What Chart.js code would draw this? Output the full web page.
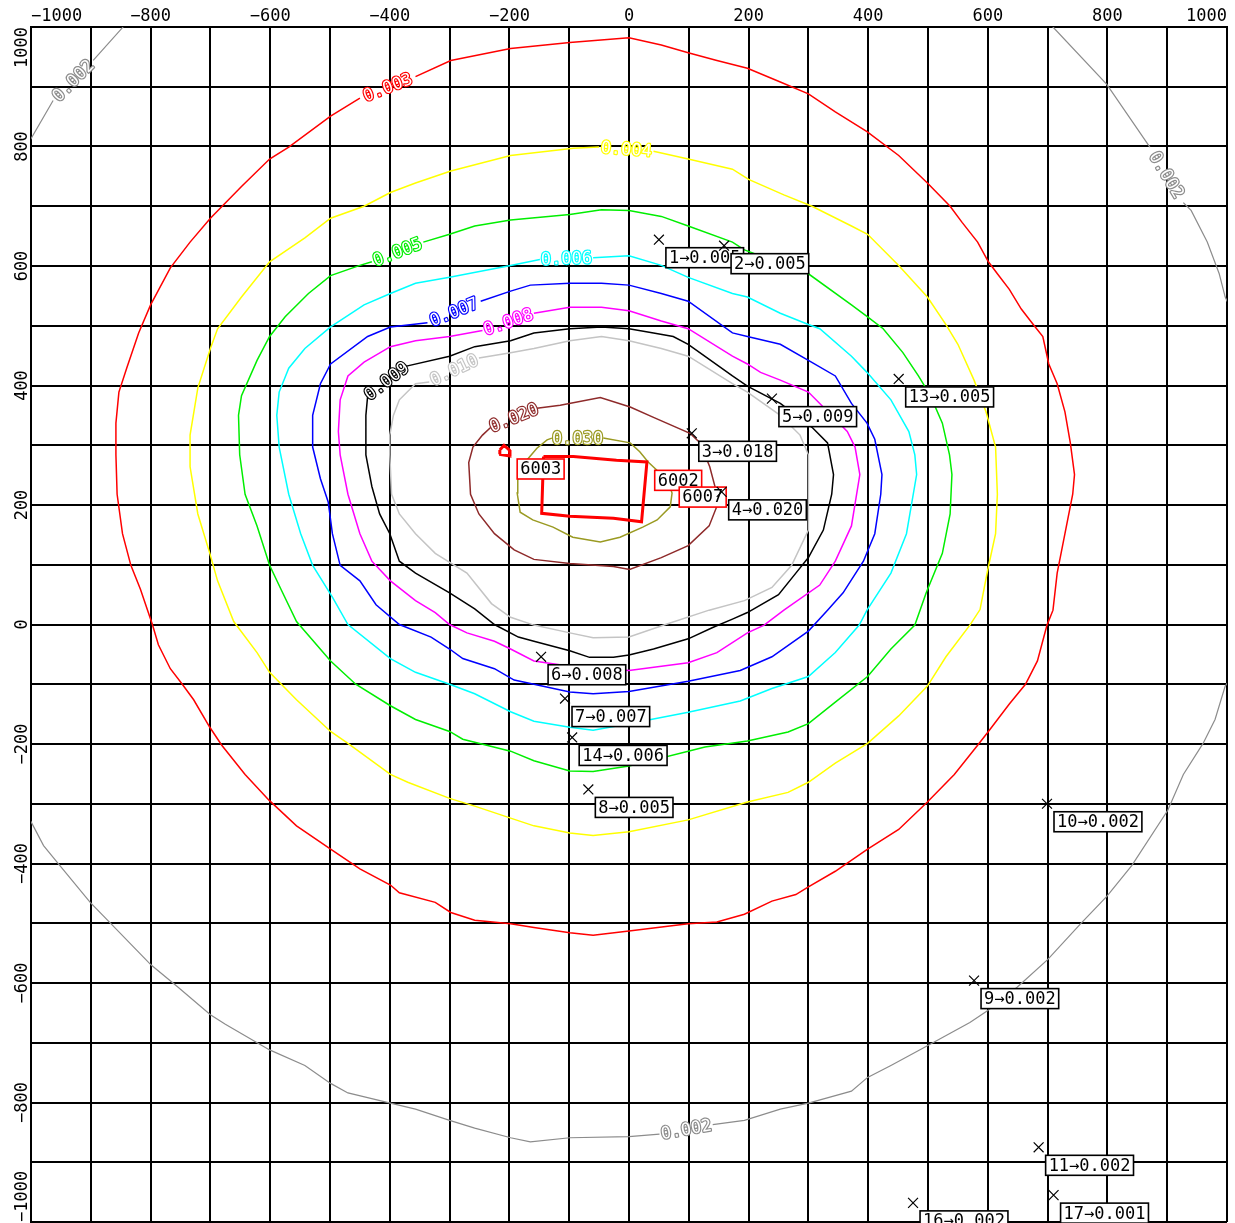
<!DOCTYPE html>
<html>
<head>
<meta charset="utf-8">
<script src="https://cdn.jsdelivr.net/npm/chart.js@4/dist/chart.umd.min.js"></script>
<style>
  html, body { margin: 0; padding: 0; background: #fff; }
  #wrap { width: 1235px; height: 1223px; }
</style>
</head>
<body>
<div id="wrap"><canvas id="c" width="1235" height="1223"></canvas></div>
<script>
// ---- axis labels (every 200 m, grid every 100 m) ----
const labelledTicks = [-1000, -800, -600, -400, -200, 0, 200, 400, 600, 800, 1000];

// ---- isolines of ground-level concentration, [x, y] in metres ----
// each line starts just after its text label and ends just before it;
// null marks a break where the line leaves the map.
const iso002a = [[-896,944],[-846,1000],[-838,1012],null,[-1012,795],[-1000,813],[-963,877]];
const iso002b = [[927,706],[940,693],[967,640],[987,587],[997,548],[1010,520],null,[700,1012],[709,1000],[799,904],[871,799]];
const iso002c = [[140,-837],[193,-830],[253,-811],[300,-801],[372,-781],[399,-758],[438,-738],[499,-705],[570,-666],[600,-646],[649,-607],[700,-561],[755,-501],[799,-455],[841,-403],[901,-311],[927,-251],[960,-199],[980,-159],[997,-103],[1010,-85],null,[-1010,-318],[-1000,-330],[-979,-370],[-952,-403],[-901,-465],[-866,-501],[-799,-570],[-754,-607],[-700,-653],[-675,-669],[-601,-712],[-542,-738],[-499,-768],[-470,-784],[-399,-801],[-357,-811],[-300,-830],[-258,-843],[-198,-859],[-165,-866],[-99,-859],[0,-857],[51,-853]];
const iso003 = [[-357,917],[-298,944],[-198,964],[-99,974],[0,982],[54,970],[99,957],[147,944],[198,931],[253,908],[300,888],[345,858],[398,825],[451,785],[499,739],[537,700],[557,673],[583,640],[601,607],[616,587],[636,561],[656,528],[676,502],[692,482],[702,436],[716,403],[729,356],[738,304],[745,251],[742,218],[729,152],[716,86],[709,24],[699,-1],[683,-61],[663,-100],[636,-133],[601,-179],[583,-202],[544,-251],[499,-297],[451,-343],[399,-376],[345,-413],[300,-439],[279,-452],[239,-463],[193,-485],[147,-498],[99,-501],[0,-513],[-60,-520],[-99,-516],[-159,-507],[-198,-501],[-258,-495],[-298,-482],[-324,-465],[-384,-449],[-399,-436],[-450,-409],[-499,-376],[-556,-337],[-602,-294],[-642,-251],[-681,-202],[-701,-172],[-728,-126],[-747,-100],[-767,-74],[-787,-34],[-797,0],[-817,59],[-833,99],[-847,152],[-856,218],[-858,284],[-858,337],[-853,389],[-840,429],[-820,488],[-800,535],[-767,597],[-734,640],[-700,680],[-648,733],[-601,779],[-569,799],[-499,851],[-450,881]];
const iso004 = [[41,792],[99,779],[173,762],[200,745],[259,719],[306,700],[372,667],[399,653],[451,601],[499,548],[530,502],[550,469],[577,409],[597,356],[613,297],[616,218],[613,152],[600,92],[587,25],[570,-1],[530,-54],[499,-103],[451,-153],[399,-199],[345,-232],[300,-264],[266,-281],[198,-297],[99,-327],[0,-347],[-60,-353],[-99,-349],[-159,-337],[-198,-324],[-258,-304],[-300,-291],[-370,-264],[-399,-251],[-470,-199],[-499,-179],[-556,-126],[-601,-80],[-622,-47],[-661,5],[-688,73],[-701,119],[-721,185],[-734,264],[-734,317],[-721,396],[-700,462],[-688,495],[-648,548],[-601,607],[-542,647],[-499,680],[-443,700],[-399,723],[-357,739],[-298,759],[-198,785],[-93,797],[-50,799]];
const iso005 = [[-344,640],[-300,653],[-258,667],[-198,677],[-99,686],[-46,694],[0,693],[54,683],[99,667],[173,640],[193,627],[300,587],[372,535],[399,515],[425,495],[458,455],[484,416],[504,383],[524,337],[536,284],[540,251],[537,185],[524,119],[497,53],[478,-1],[438,-41],[399,-87],[345,-130],[300,-166],[266,-180],[198,-195],[127,-205],[99,-212],[0,-237],[-60,-246],[-99,-245],[-159,-228],[-198,-212],[-238,-202],[-278,-192],[-300,-179],[-357,-159],[-399,-136],[-457,-100],[-499,-61],[-556,5],[-582,59],[-601,99],[-622,165],[-642,218],[-651,284],[-653,350],[-648,383],[-622,442],[-601,482],[-575,515],[-536,554],[-499,584],[-450,601],[-430,607]];
const iso006 = [[-60,614],[0,617],[54,601],[99,581],[173,554],[198,548],[253,521],[300,502],[319,495],[372,449],[398,422],[438,376],[468,323],[478,284],[481,251],[464,152],[438,86],[398,24],[385,-1],[345,-47],[300,-87],[239,-107],[186,-128],[99,-147],[0,-166],[-60,-177],[-99,-172],[-159,-162],[-198,-146],[-258,-116],[-300,-100],[-357,-80],[-399,-57],[-470,0],[-496,46],[-529,99],[-549,152],[-569,218],[-585,297],[-589,350],[-585,389],[-569,429],[-542,462],[-499,498],[-443,535],[-399,554],[-357,571],[-300,581],[-198,601],[-149,611]];
const iso007 = [[-248,541],[-198,558],[-165,568],[-99,571],[-46,571],[0,568],[54,554],[99,541],[173,488],[198,482],[253,469],[300,442],[345,416],[372,370],[398,337],[411,310],[423,251],[421,218],[411,152],[392,106],[358,53],[332,24],[300,-11],[239,-54],[186,-77],[99,-95],[0,-112],[-60,-116],[-99,-113],[-159,-100],[-192,-93],[-225,-74],[-278,-57],[-300,-41],[-331,-21],[-384,0],[-423,33],[-450,73],[-483,99],[-496,152],[-503,205],[-516,244],[-529,297],[-529,350],[-516,403],[-499,436],[-437,482],[-399,498],[-337,505]];
const iso008 = [[-159,521],[-99,531],[-46,531],[0,525],[54,508],[99,495],[173,449],[198,436],[220,422],[253,409],[300,389],[319,370],[365,323],[378,297],[386,251],[372,165],[345,106],[319,66],[259,24],[226,-1],[198,-14],[147,-47],[99,-64],[0,-77],[-99,-70],[-159,-61],[-198,-41],[-225,-28],[-271,-14],[-300,0],[-324,20],[-357,40],[-399,73],[-430,106],[-450,152],[-470,218],[-483,284],[-486,323],[-483,376],[-470,416],[-443,439],[-399,465],[-357,475],[-300,482],[-245,492]];
const iso009 = [[-374,432],[-300,449],[-258,465],[-198,475],[-159,488],[-99,495],[-46,498],[0,495],[41,488],[74,482],[99,469],[173,416],[198,399],[253,370],[306,330],[332,304],[342,251],[339,218],[325,158],[300,112],[279,86],[250,50],[198,20],[173,9],[140,-5],[99,-24],[41,-41],[0,-51],[-26,-55],[-66,-55],[-99,-44],[-159,-28],[-185,-21],[-225,0],[-258,26],[-300,53],[-357,86],[-384,106],[-400,152],[-417,185],[-430,231],[-440,284],[-440,350],[-437,383]];
const iso010 = [[-251,446],[-198,455],[-159,462],[-99,475],[-46,482],[0,475],[54,462],[99,449],[173,403],[198,389],[253,350],[286,317],[300,284],[300,231],[300,158],[272,99],[239,62],[193,40],[134,24],[61,0],[0,-21],[-60,-22],[-99,-14],[-159,-1],[-198,12],[-230,35],[-271,86],[-324,119],[-357,152],[-384,185],[-397,218],[-400,284],[-400,317],[-394,350],[-384,376],[-357,403],[-334,406]];
const iso020 = [[-154,362],[-115,367],[-48,380],[2,364],[40,347],[102,320],[119,304],[135,264],[144,230],[147,198],[134,165],[99,132],[54,112],[1,92],[-26,97],[-99,102],[-159,109],[-192,125],[-225,152],[-251,185],[-265,218],[-268,271],[-261,297],[-245,317],[-231,330]];
const iso030 = [[-43,312],[2,304],[18,289],[32,272],[64,242],[72,220],[69,197],[47,175],[23,163],[-15,146],[-48,138],[-94,146],[-127,163],[-161,175],[-182,188],[-187,220],[-186,242],[-171,275],[-154,295],[-137,309],[-129,312]];

// ---- emission sources ----
const sourceArea6003 = [[-143,281],[-93,281],[-21,275],[30,272],[21,172],[-26,178],[-99,181],[-146,186],[-143,281]];
const sourceMarker = [[-216,292],[-209,300],[-200,292],[-199,282],[-217,285],[-216,292]];
const sourceIds = ['6003', '6002', '6007'];
const sourceX = [-187, 43, 84];
const sourceY = [277, 258, 230];

// ---- receptor points and their computed values ----
const receptorIds = [1, 2, 3, 4, 5, 6, 7, 8, 9, 10, 11, 13, 14, 16, 17];
const receptorX = [50, 159, 105, 155, 239, -147, -107, -68, 577, 699, 685, 451, -95, 475, 710];
const receptorY = [644, 634, 320, 222, 378, -54, -124, -276, -596, -300, -875, 411, -189, -968, -955];
const receptorValues = [0.005, 0.005, 0.018, 0.020, 0.009, 0.008, 0.007, 0.005, 0.002, 0.002, 0.002, 0.005, 0.006, 0.002, 0.001];

// ---- drawing styles ----
const MONO = '"DejaVu Sans Mono", monospace';
const isolines = [
  { label: '0.002', pts: iso002a, color: '#8c8c8c', width: 1.2 },
  { label: '0.002', pts: iso002b, color: '#8c8c8c', width: 1.2 },
  { label: '0.002', pts: iso002c, color: '#8c8c8c', width: 1.2 },
  { label: '0.003', pts: iso003, color: '#ff0000', width: 1.5 },
  { label: '0.004', pts: iso004, color: '#ffff00', width: 1.5 },
  { label: '0.005', pts: iso005, color: '#00ee00', width: 1.5 },
  { label: '0.006', pts: iso006, color: '#00ffff', width: 1.5 },
  { label: '0.007', pts: iso007, color: '#0000ff', width: 1.5 },
  { label: '0.008', pts: iso008, color: '#ff00ff', width: 1.5 },
  { label: '0.009', pts: iso009, color: '#000000', width: 1.5 },
  { label: '0.010', pts: iso010, color: '#c4c4c4', width: 1.5 },
  { label: '0.020', pts: iso020, color: '#8e2a2a', width: 1.5 },
  { label: '0.030', pts: iso030, color: '#9a9a22', width: 1.5 }
];

const toXY = pts => pts.map(p => p ? { x: p[0], y: p[1] } : { x: null, y: null });
const fmt = v => (v < 0 ? '\u2212' + Math.abs(v) : String(v));

const datasets = [];
datasets.push({
  label: 'receptors',
  data: receptorX.map((x, i) => ({ x, y: receptorY[i] })),
  showLine: false,
  pointStyle: 'crossRot',
  pointRadius: 7,
  pointBorderWidth: 1.2,
  pointBorderColor: '#000',
  order: 0
});
const RECEPTOR_INDEX = 0;
[sourceArea6003, sourceMarker].forEach(s => datasets.push({
  data: toXY(s), showLine: true, pointRadius: 0, borderColor: '#ff0000',
  borderWidth: 3, borderJoinStyle: 'miter', fill: false, order: 1
}));
isolines.forEach(c => datasets.push({
  data: toXY(c.pts), showLine: true, pointRadius: 0, borderColor: c.color,
  borderWidth: c.width, fill: false, spanGaps: false, tension: 0, order: 2
}));

function boxLabel(ctx, text, px, py, stroke) {
  ctx.font = '17px ' + MONO;
  const w = ctx.measureText(text).width + 6;
  const h = 20;
  ctx.fillStyle = '#fff';
  ctx.fillRect(px, py, w, h);
  ctx.lineWidth = 1.6;
  ctx.strokeStyle = stroke;
  ctx.strokeRect(px, py, w, h);
  ctx.fillStyle = '#000';
  ctx.textAlign = 'left';
  ctx.textBaseline = 'middle';
  ctx.fillText(text, px + 3, py + h / 2 + 1);
}

const annotations = {
  id: 'annotations',
  beforeDatasetDraw(chart, args) {
    if (args.index !== RECEPTOR_INDEX) return;
    const ctx = chart.ctx, xs = chart.scales.x, ys = chart.scales.y;
    const a = chart.chartArea;
    ctx.save();
    ctx.beginPath();
    ctx.rect(a.left, a.top, a.right - a.left, a.bottom - a.top + 2);
    ctx.clip();
    // isoline values written, hollow, in the gap of each line
    isolines.forEach(c => {
      const p0 = c.pts[c.pts.length - 1], p1 = c.pts[0];
      const x0 = xs.getPixelForValue(p0[0]), y0 = ys.getPixelForValue(p0[1]);
      const x1 = xs.getPixelForValue(p1[0]), y1 = ys.getPixelForValue(p1[1]);
      let ang = Math.atan2(y1 - y0, x1 - x0);
      if (ang > Math.PI / 2) ang -= Math.PI;
      if (ang < -Math.PI / 2) ang += Math.PI;
      ctx.save();
      ctx.translate((x0 + x1) / 2, (y0 + y1) / 2);
      ctx.rotate(ang);
      ctx.font = '17px ' + MONO;
      ctx.textAlign = 'center';
      ctx.textBaseline = 'middle';
      ctx.lineJoin = 'round';
      ctx.strokeStyle = c.color;
      ctx.lineWidth = 2.4;
      ctx.strokeText(c.label, 0, 1);
      ctx.fillStyle = '#fff';
      ctx.fillText(c.label, 0, 1);
      ctx.restore();
    });
    // source names
    sourceIds.forEach((id, i) => {
      boxLabel(ctx, id, xs.getPixelForValue(sourceX[i]), ys.getPixelForValue(sourceY[i]), '#ff0000');
    });
    // receptor results
    receptorIds.forEach((id, i) => {
      const px = xs.getPixelForValue(receptorX[i]) + 7;
      const py = ys.getPixelForValue(receptorY[i]) + 8;
      boxLabel(ctx, id + '\u2192' + receptorValues[i].toFixed(3), px, py, '#000');
    });
    ctx.restore();
  },
  afterDraw(chart) {
    // vertical axis numbers, rotated to read upwards
    const ctx = chart.ctx, ys = chart.scales.y;
    ctx.save();
    ctx.font = '17px ' + MONO;
    ctx.fillStyle = '#000';
    ctx.textBaseline = 'alphabetic';
    labelledTicks.forEach(v => {
      const py = ys.getPixelForValue(v);
      ctx.save();
      ctx.translate(27, py);
      ctx.rotate(-Math.PI / 2);
      ctx.textAlign = v === ys.max ? 'right' : (v === ys.min ? 'left' : 'center');
      ctx.fillText(fmt(v), 0, 0);
      ctx.restore();
    });
    ctx.restore();
  }
};

new Chart(document.getElementById('c'), {
  type: 'scatter',
  data: { datasets },
  options: {
    responsive: false,
    animation: false,
    devicePixelRatio: 1,
    events: [],
    layout: { autoPadding: false, padding: { top: 0, left: 0, right: 8, bottom: 1 } },
    plugins: { legend: { display: false }, tooltip: { enabled: false } },
    scales: {
      x: {
        type: 'linear', position: 'top', min: -1000, max: 1000,
        afterFit: s => { s.height = 27; },
        border: { display: true, color: '#000', width: 2 },
        grid: { color: '#000', lineWidth: 2, drawTicks: false },
        ticks: {
          stepSize: 100, autoSkip: false, maxRotation: 0, align: 'inner', padding: 0,
          color: '#000', font: { family: MONO, size: 17 },
          callback: v => labelledTicks.includes(v) ? fmt(v) : ''
        }
      },
      y: {
        type: 'linear', position: 'left', min: -1000, max: 1000,
        afterFit: s => { s.width = 31; },
        border: { display: true, color: '#000', width: 2 },
        grid: { color: '#000', lineWidth: 2, drawTicks: false },
        ticks: { stepSize: 100, display: false }
      }
    }
  },
  plugins: [annotations]
});
</script>
</body>
</html>
